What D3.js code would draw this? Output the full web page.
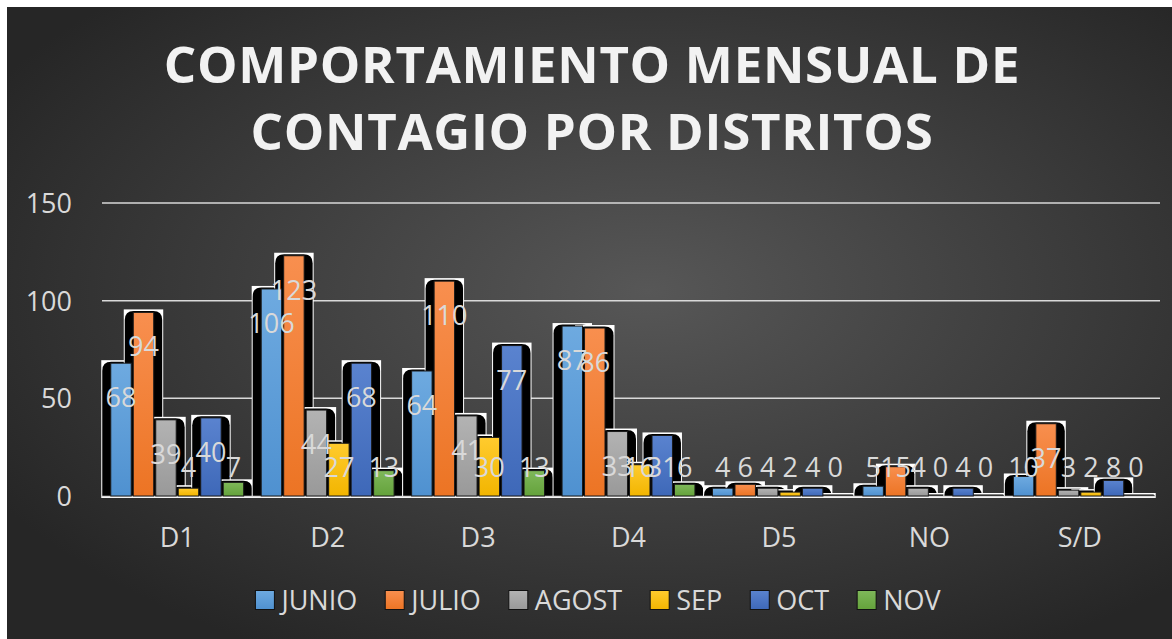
<!DOCTYPE html>
<html><head><meta charset="utf-8">
<script src="https://cdn.jsdelivr.net/npm/d3@7"></script>
<style>html,body{margin:0;padding:0;background:#fff;}svg{display:block;}</style>
</head><body>
<svg id="chart" width="1172" height="639"></svg>
<script>
const categories = ["D1","D2","D3","D4","D5","NO","S/D"];
const seriesNames = ["JUNIO","JULIO","AGOST","SEP","OCT","NOV"];
const junio = [68,106,64,87,4,5,10];
const julio = [94,123,110,86,6,15,37];
const agost = [39,44,41,33,4,4,3];
const sep   = [4,27,30,16,2,0,2];
const oct   = [40,68,77,31,4,4,8];
const nov   = [7,13,13,6,0,0,0];
const yTicks = [0,50,100,150];
const titleLines = ["COMPORTAMIENTO MENSUAL DE","CONTAGIO POR DISTRITOS"];

const seriesValues = [junio,julio,agost,sep,oct,nov];
const colors = [
  ["#6eaae0","#4f91d0"],
  ["#f88f4f","#ec7424"],
  ["#b3b3b3","#999999"],
  ["#ffcb2e","#f2b500"],
  ["#5a83cf","#3e68b8"],
  ["#7fb85a","#64a23b"]
];

const svg = d3.select("#chart");
const defs = svg.append("defs");
const bg = defs.append("radialGradient").attr("id","bg").attr("cx","55%").attr("cy","45%").attr("r","65%");
bg.append("stop").attr("offset","0%").attr("stop-color","#575757");
bg.append("stop").attr("offset","100%").attr("stop-color","#262626");
colors.forEach((c,i)=>{
  const g = defs.append("linearGradient").attr("id","g"+i).attr("x1",0).attr("y1",0).attr("x2",0).attr("y2",1);
  g.append("stop").attr("offset","0%").attr("stop-color",c[0]);
  g.append("stop").attr("offset","100%").attr("stop-color",c[1]);
});

svg.append("rect").attr("x",7).attr("y",7).attr("width",1165).attr("height",632).attr("fill","url(#bg)");

const font = "'Open Sans', sans-serif";
const txt = "#d9d9d9";

// Title
svg.append("g").selectAll("text").data(titleLines).join("text")
  .attr("x",592).attr("y",(d,i)=>83+i*67)
  .attr("text-anchor","middle")
  .attr("font-family",font).attr("font-weight","bold").attr("font-size",51)
  .attr("letter-spacing",0.7)
  .attr("fill","#f2f2f2").text(d=>d);

const x0 = d3.scaleBand().domain(categories).range([102,1155]).padding(0);
const x1 = d3.scaleBand().domain(seriesNames).range([0,x0.bandwidth()]).paddingInner(0.09).paddingOuter(0.39);
const y = d3.scaleLinear().domain([0,150]).range([496,203]);

// gridlines
svg.append("g").selectAll("line").data(yTicks.filter(d=>d>0)).join("line")
  .attr("x1",102).attr("x2",1160).attr("y1",d=>y(d)).attr("y2",d=>y(d))
  .attr("stroke","#d9d9d9").attr("stroke-width",1.5);

// y labels
svg.append("g").selectAll("text").data(yTicks).join("text")
  .attr("x",72).attr("y",d=>y(d)+10).attr("text-anchor","end")
  .attr("font-family",font).attr("font-size",27).attr("fill",txt).text(d=>d);

// data in category-major order
const items = [];
categories.forEach((c,ci)=>{
  seriesNames.forEach((s,si)=>{
    items.push({c, s, si, v: seriesValues[si][ci]});
  });
});

const base = y(0);
const shadowG = svg.append("g");
items.forEach(d=>{
  const bx = x0(d.c)+x1(d.s), bw = x1.bandwidth();
  const top = y(d.v);
  const L = bx-9.5, R = bx+bw+9.5, T = top-3;
  shadowG.append("rect").attr("x",L).attr("y",T).attr("width",R-L).attr("height",base+2-T).attr("fill","#ffffff");
  const iL=L+1, iR=R-1, iT=T+1.5, iB=base;
  const r = Math.min(9, (iB-iT));
  const p = d3.path();
  p.moveTo(iL,iB);
  p.lineTo(iL,iT+r);
  p.quadraticCurveTo(iL,iT,iL+r,iT);
  p.lineTo(iR-r,iT);
  p.quadraticCurveTo(iR,iT,iR,iT+r);
  p.lineTo(iR,iB);
  p.closePath();
  shadowG.append("path").attr("d",p.toString()).attr("fill","#000");
});

// baseline
svg.append("line").attr("x1",102).attr("x2",1155).attr("y1",base+0.5).attr("y2",base+0.5)
  .attr("stroke","#d9d9d9").attr("stroke-width",1.5);

// bars
svg.append("g").selectAll("rect").data(items).join("rect")
  .attr("x",d=>x0(d.c)+x1(d.s)).attr("width",x1.bandwidth())
  .attr("y",d=>y(d.v)).attr("height",d=>base-y(d.v))
  .attr("fill",d=>"url(#g"+d.si+")")
  .attr("stroke",d=>d.v>0?"#1a1a1a":"none").attr("stroke-width",1);

// value labels
svg.append("g").selectAll("text").data(items).join("text")
  .attr("x",d=>x0(d.c)+x1(d.s)+x1.bandwidth()/2)
  .attr("y",d=>Math.min(y(d.v)+34,467)+10)
  .attr("text-anchor","middle")
  .attr("font-family",font).attr("font-size",27).attr("fill",txt).text(d=>d.v);

// category labels
svg.append("g").selectAll("text").data(categories).join("text")
  .attr("x",d=>x0(d)+x0.bandwidth()/2).attr("y",547).attr("text-anchor","middle")
  .attr("font-family",font).attr("font-size",27).attr("fill",txt).text(d=>d);

// legend
const leg = svg.append("g");
let cx = 0;
seriesNames.forEach((s,i)=>{
  const g = leg.append("g");
  g.append("rect").attr("x",0).attr("y",-9.5).attr("width",19).attr("height",19)
    .attr("fill","url(#g"+i+")").attr("stroke","#111").attr("stroke-width",1);
  const t = g.append("text").attr("x",26).attr("y",10).attr("font-family",font)
    .attr("font-size",27).attr("fill",txt).text(s);
  const w = 26 + t.node().getComputedTextLength();
  g.attr("transform",`translate(${cx},0)`);
  cx += w + 28;
});
const total = cx - 28;
leg.attr("transform",`translate(${598-total/2},600)`);
</script>
</body></html>
